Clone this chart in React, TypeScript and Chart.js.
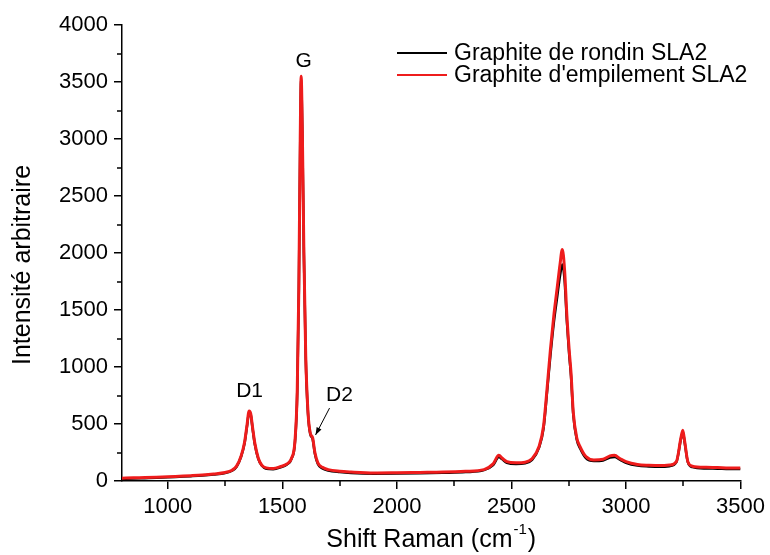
import React, { useEffect, useRef } from "react";
import { Chart, registerables } from "chart.js";

Chart.register(...registerables);

// ---- data ----
const wavenumbers = [
  800, 850, 900, 950, 1000, 1050, 1100, 1150, 1200, 1250,
  1280, 1300, 1320, 1335, 1345, 1355, 1362, 1370, 1380, 1395,
  1410, 1430, 1460, 1490, 1520, 1540, 1555, 1565, 1572, 1578,
  1582, 1587, 1594, 1602, 1612, 1622, 1632, 1642, 1655, 1675,
  1700, 1750, 1800, 1900, 2000, 2100, 2200, 2300, 2380, 2420,
  2445, 2460, 2480, 2520, 2560, 2590, 2620, 2640, 2655, 2670,
  2685, 2700, 2712, 2722, 2732, 2742, 2752, 2760, 2770, 2785,
  2800, 2825, 2860, 2900, 2930, 2950, 2975, 3000, 3050, 3100,
  3150, 3190, 3220, 3240, 3248, 3256, 3270, 3290, 3350, 3400,
  3450, 3500,
];

const rondinSLA2 = [
  20, 22, 25, 28, 32, 37, 42, 48, 57, 70,
  90, 125, 215, 330, 470, 600, 580, 460, 320, 195,
  135, 108, 104, 118, 145, 195, 340, 780, 1680, 2980,
  3520, 3080, 1980, 1080, 590, 410, 370, 240, 150, 110,
  92, 78, 70, 64, 65, 68, 72, 78, 95, 140,
  210, 190, 160, 150, 155, 185, 290, 460, 770, 1100,
  1390, 1620, 1800, 1900, 1760, 1400, 1110, 920, 580, 365,
  285, 200, 175, 180, 205, 210, 185, 160, 135, 128,
  125, 130, 165, 370, 430, 340, 165, 122, 110, 108,
  105, 105,
];

const empilementSLA2 = [
  25, 28, 30, 33, 37, 42, 47, 53, 62, 75,
  95, 130, 220, 340, 480, 615, 590, 470, 330, 200,
  140, 115, 110, 125, 150, 200, 350, 800, 1700, 3000,
  3550, 3100, 2000, 1100, 600, 420, 380, 250, 160, 120,
  100, 85, 78, 70, 72, 75, 78, 85, 100, 150,
  225, 200, 170, 160, 165, 195, 300, 480, 800, 1150,
  1450, 1700, 1900, 2030, 1850, 1450, 1150, 950, 600, 380,
  300, 215, 185, 190, 220, 225, 195, 170, 145, 138,
  135, 140, 170, 380, 445, 350, 170, 130, 120, 118,
  115, 115,
];

const seriesLabels = ["Graphite de rondin SLA2", "Graphite d'empilement SLA2"];
const seriesColors = ["#000000", "#ee1c1c"];

const xTickValues = [1000, 1500, 2000, 2500, 3000, 3500];
const xMinorTicks = [1250, 1750, 2250, 2750, 3250];
const yTickValues = [0, 500, 1000, 1500, 2000, 2500, 3000, 3500, 4000];
const yMinorTicks = [250, 750, 1250, 1750, 2250, 2750, 3250, 3750];

const peakNames = ["D1", "G", "D2"];
const peakNameX = [1357, 1593, 1749];
const peakNameY = [789, 3680, 754];
const arrowStart = [1706, 640];
const arrowEnd = [1645, 404];

const xTitle = "Shift Raman (cm";
const xTitleSup = "-1";
const yTitle = "Intensité arbitraire";

const FONT = "'Liberation Sans', Arial, Helvetica, sans-serif";

const decorPlugin = {
  id: "decor",
  afterDraw(chart: any) {
    const ctx = chart.ctx as CanvasRenderingContext2D;
    const xs = chart.scales.x;
    const ys = chart.scales.y;
    const area = chart.chartArea;
    ctx.save();
    ctx.strokeStyle = "#000";
    ctx.lineWidth = 1.5;
    // minor ticks
    ctx.beginPath();
    xMinorTicks.forEach((v) => {
      const px = Math.round(xs.getPixelForValue(v));
      ctx.moveTo(px, area.bottom);
      ctx.lineTo(px, area.bottom + 5);
    });
    yMinorTicks.forEach((v) => {
      const py = Math.round(ys.getPixelForValue(v));
      ctx.moveTo(area.left - 5, py);
      ctx.lineTo(area.left, py);
    });
    ctx.stroke();

    // peak annotations
    ctx.fillStyle = "#000";
    ctx.font = `21px ${FONT}`;
    ctx.textAlign = "center";
    ctx.textBaseline = "middle";
    peakNames.forEach((n, i) => {
      ctx.fillText(n, xs.getPixelForValue(peakNameX[i]), ys.getPixelForValue(peakNameY[i]));
    });

    // arrow
    const ax0 = xs.getPixelForValue(arrowStart[0]);
    const ay0 = ys.getPixelForValue(arrowStart[1]);
    const ax1 = xs.getPixelForValue(arrowEnd[0]);
    const ay1 = ys.getPixelForValue(arrowEnd[1]);
    ctx.lineWidth = 1;
    ctx.beginPath();
    ctx.moveTo(ax0, ay0);
    ctx.lineTo(ax1, ay1);
    ctx.stroke();
    const ang = Math.atan2(ay1 - ay0, ax1 - ax0);
    const hl = 8;
    ctx.beginPath();
    ctx.moveTo(ax1, ay1);
    ctx.lineTo(ax1 - hl * Math.cos(ang - 0.35), ay1 - hl * Math.sin(ang - 0.35));
    ctx.lineTo(ax1 - hl * Math.cos(ang + 0.35), ay1 - hl * Math.sin(ang + 0.35));
    ctx.closePath();
    ctx.fill();

    // legend
    ctx.font = `23px ${FONT}`;
    ctx.textAlign = "left";
    const legX = 397;
    const legY = [53, 75];
    seriesLabels.forEach((lab, i) => {
      ctx.strokeStyle = seriesColors[i];
      ctx.lineWidth = 2;
      ctx.beginPath();
      ctx.moveTo(legX, legY[i]);
      ctx.lineTo(legX + 50, legY[i]);
      ctx.stroke();
      ctx.fillStyle = "#000";
      ctx.fillText(lab, legX + 57, legY[i] + 1);
    });

    // x title with superscript
    const big = `25px ${FONT}`;
    const small = `15px ${FONT}`;
    ctx.font = big;
    const w1 = ctx.measureText(xTitle).width;
    ctx.font = small;
    const w2 = ctx.measureText(xTitleSup).width;
    ctx.font = big;
    const w3 = ctx.measureText(")").width;
    const total = w1 + w2 + w3 + 2;
    const cx = (area.left + area.right) / 2;
    const ty = 540;
    let x = cx - total / 2;
    ctx.fillText(xTitle, x, ty);
    x += w1 + 1;
    ctx.font = small;
    ctx.fillText(xTitleSup, x, ty - 10);
    x += w2 + 1;
    ctx.font = big;
    ctx.fillText(")", x, ty);

    // y title (rotated)
    ctx.save();
    ctx.translate(23, 265);
    ctx.rotate(-Math.PI / 2);
    ctx.textAlign = "center";
    ctx.font = `25px ${FONT}`;
    ctx.fillText(yTitle, 0, 0);
    ctx.restore();

    ctx.restore();
  },
};

export default function App() {
  const canvasRef = useRef<HTMLCanvasElement | null>(null);

  useEffect(() => {
    const canvas = canvasRef.current;
    if (!canvas) return;
    const chart = new Chart(canvas, {
      type: "line",
      data: {
        datasets: [
          {
            label: seriesLabels[0],
            data: wavenumbers.map((w, i) => ({ x: w, y: rondinSLA2[i] })),
            borderColor: seriesColors[0],
            borderWidth: 2.5,
            pointRadius: 0,
            cubicInterpolationMode: "monotone",
            order: 2,
          },
          {
            label: seriesLabels[1],
            data: wavenumbers.map((w, i) => ({ x: w, y: empilementSLA2[i] })),
            borderColor: seriesColors[1],
            borderWidth: 3,
            pointRadius: 0,
            cubicInterpolationMode: "monotone",
            order: 1,
          },
        ],
      },
      options: {
        animation: false,
        responsive: false,
        devicePixelRatio: 1,
        layout: { padding: { top: 25, right: 28, left: 0, bottom: 0 } },
        plugins: { legend: { display: false }, tooltip: { enabled: false } },
        scales: {
          x: {
            type: "linear",
            min: 800,
            max: 3500,
            afterBuildTicks: (s: any) => {
              s.ticks = xTickValues.map((v) => ({ value: v }));
            },
            afterFit: (s: any) => {
              s.height = 74;
            },
            grid: { drawOnChartArea: false, tickLength: 8, color: "#000", lineWidth: 1.5 },
            border: { color: "#000", width: 1.5 },
            ticks: {
              color: "#000",
              font: { family: FONT, size: 22 },
              padding: 5,
              maxRotation: 0,
              callback: (v: any) => String(v),
            },
          },
          y: {
            type: "linear",
            min: 0,
            max: 4000,
            afterBuildTicks: (s: any) => {
              s.ticks = yTickValues.map((v) => ({ value: v }));
            },
            afterFit: (s: any) => {
              s.width = 122;
            },
            grid: { drawOnChartArea: false, tickLength: 8, color: "#000", lineWidth: 1.5 },
            border: { color: "#000", width: 1.5 },
            ticks: {
              color: "#000",
              font: { family: FONT, size: 22 },
              padding: 6,
              callback: (v: any) => String(v),
            },
          },
        },
      },
      plugins: [decorPlugin],
    });
    return () => chart.destroy();
  }, []);

  return (
    <div style={{ position: "fixed", left: 0, top: 0, width: 770, height: 555, background: "#fff" }}>
      <canvas ref={canvasRef} width={770} height={555} />
    </div>
  );
}
